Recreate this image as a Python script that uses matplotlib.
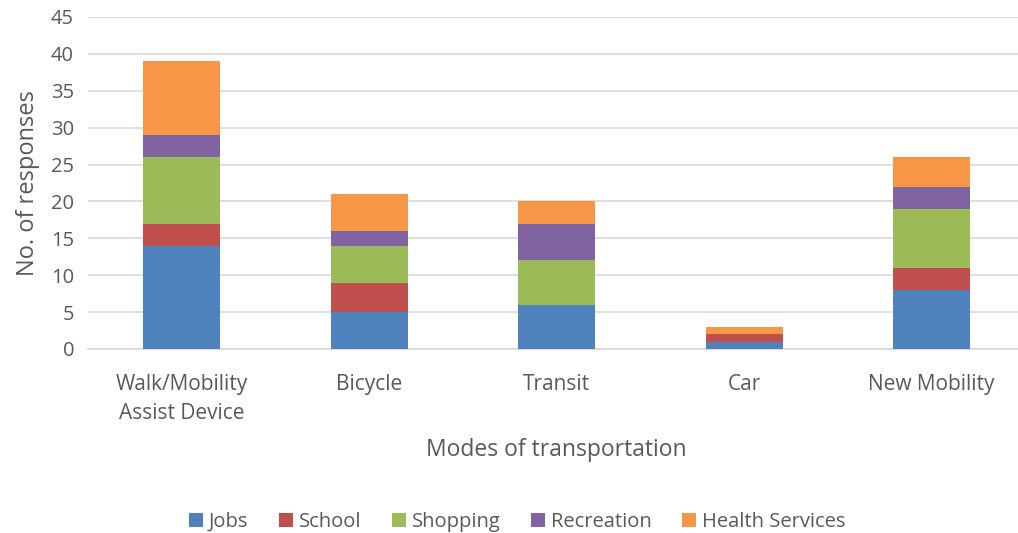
import matplotlib
matplotlib.use('Agg')
import matplotlib.pyplot as plt
import numpy as np

plt.rcParams['font.family'] = ['Open Sans', 'DejaVu Sans']

modes = ['Walk/Mobility\nAssist Device', 'Bicycle', 'Transit', 'Car', 'New Mobility']
jobs = [14, 5, 6, 1, 8]
school = [3, 4, 0, 1, 3]
shopping = [9, 5, 6, 0, 8]
recreation = [3, 2, 5, 0, 3]
health = [10, 5, 3, 1, 4]

series = [('Jobs', jobs, '#4f81bd'),
          ('School', school, '#c0504d'),
          ('Shopping', shopping, '#9bbb59'),
          ('Recreation', recreation, '#8064a2'),
          ('Health Services', health, '#f79646')]

fig = plt.figure(figsize=(10.18, 5.33), dpi=100)
ax = fig.add_axes([88/1018, 1-349/533, 937.5/1018, 332/533])

x = np.arange(len(modes))
bottom = np.zeros(len(modes))
for name, vals, col in series:
    ax.bar(x, vals, bottom=bottom, width=0.41, color=col, label=name, zorder=3)
    bottom += np.array(vals)

ax.set_xlim(-0.5, 4.5)
ax.set_ylim(0, 45)
ax.set_yticks(range(0, 50, 5))
ax.yaxis.grid(True, color='#d9d9d9', lw=1.2, zorder=0)
for s in ['top', 'right', 'left']:
    ax.spines[s].set_visible(False)
ax.spines['bottom'].set_color('#d9d9d9')
ax.spines['bottom'].set_linewidth(1.2)
ax.tick_params(axis='y', length=0, labelsize=14.5, colors='#595959', pad=10)
ax.tick_params(axis='x', length=0, labelsize=15, colors='#595959', pad=18)
ax.set_xticks(x)
ax.set_xticklabels(modes, linespacing=1.5)
ax.set_ylabel('No. of responses', fontsize=17, color='#595959', labelpad=8)
ax.set_xlabel('Modes of transportation', fontsize=16.5, color='#595959', labelpad=10)

leg = fig.legend(loc='lower center', bbox_to_anchor=(0.508, -0.032), ncol=5,
                 frameon=False, fontsize=14.5, handlelength=0.7, handleheight=0.7,
                 handletextpad=0.3, columnspacing=1.5)
for t in leg.get_texts():
    t.set_color('#595959')

fig.savefig('out.png', dpi=100)
